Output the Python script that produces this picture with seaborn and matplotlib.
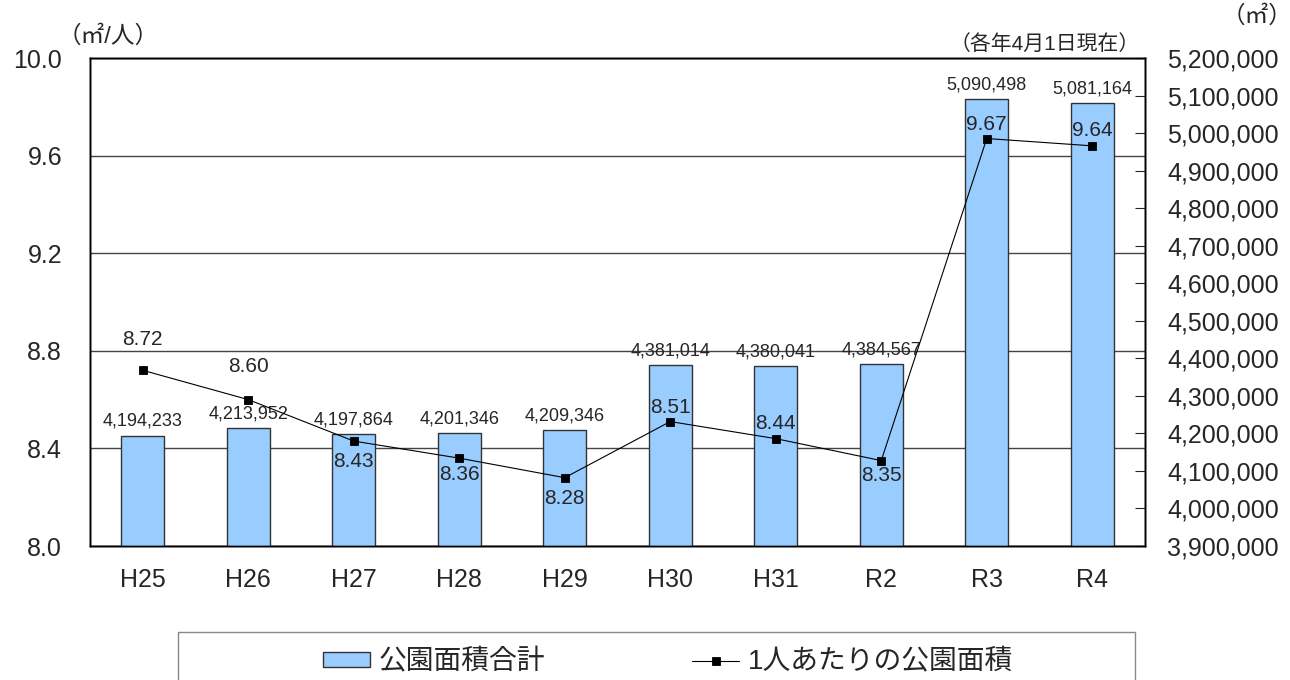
import matplotlib
matplotlib.use("Agg")
import matplotlib.pyplot as plt
from matplotlib.patches import Rectangle
from matplotlib.ticker import FuncFormatter
import seaborn as sns

# park area per year (as of April 1 each year)
YEARS = ["H25", "H26", "H27", "H28", "H29", "H30", "H31", "R2", "R3", "R4"]
TOTAL_AREA = [4194233, 4213952, 4197864, 4201346, 4209346,
              4381014, 4380041, 4384567, 5090498, 5081164]
PER_PERSON = [8.72, 8.60, 8.43, 8.36, 8.28, 8.51, 8.44, 8.35, 9.67, 9.64]

# label offsets (points) for the per-person values
LABEL_DY = [22, 24, -15, -12, -15, 10, 11, -11, 10, 11]

BAR_COLOR = "#99CCFF"

sns.set_style("white")
plt.rcParams["font.family"] = ["Liberation Sans", "Noto Sans CJK JP", "DejaVu Sans"]

fig = plt.figure(figsize=(12.9, 6.8), dpi=100)
ax = fig.add_axes([90 / 1290, 1 - 546 / 680, (1145 - 90) / 1290, (546 - 58) / 680])

# left scale (grid only)
ax.set_ylim(8.0, 10.0)
ax.set_yticks([8.0, 8.4, 8.8, 9.2, 9.6, 10.0])
ax.yaxis.set_major_formatter(FuncFormatter(lambda v, p: f"{v:.1f}"))
ax.grid(axis="y", color="#444444", linewidth=1)
ax.tick_params(axis="y", length=0, labelsize=18, pad=20)

# bars on right scale
axb = ax.twinx()
sns.barplot(x=YEARS, y=TOTAL_AREA, ax=axb, color=BAR_COLOR, saturation=1,
            width=0.41, edgecolor="#333333", linewidth=1, label="公園面積合計")
axb.set_ylim(3900000, 5200000)
axb.set_yticks(range(3900000, 5200001, 100000))
axb.yaxis.set_major_formatter(FuncFormatter(lambda v, p: f"{int(v):,}"))
axb.tick_params(axis="y", direction="in", length=7, labelsize=18, pad=16,
                right=True, labelright=True, left=False, labelleft=False)
axb.bar_label(axb.containers[0], labels=[f"{v:,}" for v in TOTAL_AREA],
              padding=4, fontsize=13)
axb.set_ylabel("")

# line on left scale
axl = ax.twinx()
sns.pointplot(x=YEARS, y=PER_PERSON, ax=axl, color="black", markers="s",
              linestyles="-", errorbar=None, markersize=6, linewidth=0.8,
              label="1人あたりの公園面積")
axl.set_ylim(8.0, 10.0)
axl.set_yticks([])
axl.set_ylabel("")
for i, (v, dy) in enumerate(zip(PER_PERSON, LABEL_DY)):
    axl.annotate(f"{v:.2f}", (i, v), xytext=(0, dy), textcoords="offset points",
                 ha="center", va="center", fontsize=15)

# handles for the figure legend, then drop the per-axes legends
h1, l1 = axb.get_legend_handles_labels()
h2, l2 = axl.get_legend_handles_labels()
for a in (axb, axl):
    if a.get_legend() is not None:
        a.get_legend().remove()

for a in (ax, axb, axl):
    a.set_xlim(-0.5, len(YEARS) - 0.5)
    for s in a.spines.values():
        s.set_color("black")
        s.set_linewidth(1)
ax.tick_params(axis="x", length=0, labelsize=18, pad=16)
axb.tick_params(axis="x", length=0)

fig.text(58 / 1290, 1 - 36 / 680, "（㎡/人）", fontsize=17, ha="left", va="center")
fig.text(1292 / 1290, 1 - 16 / 680, "（㎡）", fontsize=17, ha="right", va="center")
fig.text(1140 / 1290, 1 - 44 / 680, "（各年4月1日現在）", fontsize=15,
         ha="right", va="center")

fig.legend(h1 + h2, l1 + l2, loc="center", bbox_to_anchor=(668 / 1290, 0.026),
           ncol=2, frameon=False, fontsize=20, handlelength=1.7, handleheight=0.5,
           handletextpad=0.3, columnspacing=5.3)
fig.patches.append(Rectangle((178 / 1290, -0.02), (1135 - 178) / 1290,
                             (680 - 632) / 680 + 0.02, transform=fig.transFigure,
                             fill=False, edgecolor="#888888", linewidth=1))

fig.savefig("out.png", dpi=100)
